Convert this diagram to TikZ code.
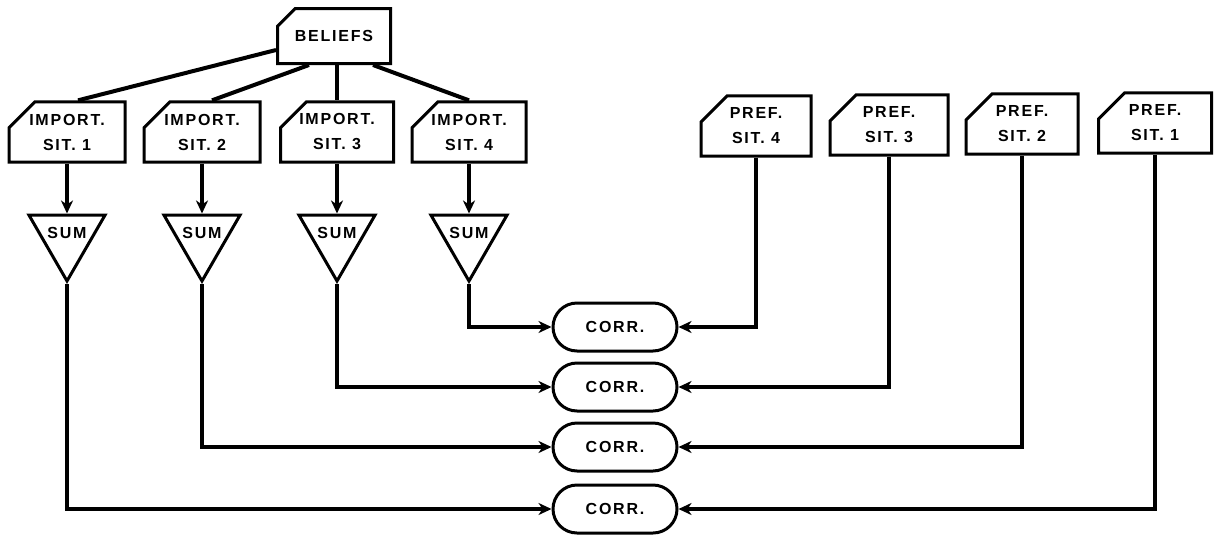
\documentclass[tikz,border=0pt]{standalone}
\usepackage{fontspec}
\newfontfamily\labfont[LetterSpace=11]{Liberation Sans}
\usetikzlibrary{shapes.misc,shapes.geometric,arrows.meta}
\begin{document}
\begin{tikzpicture}[x=1pt,y=-1pt,
  every node/.style={font=\labfont\bfseries\fontsize{16}{25}\selectfont, align=center, inner sep=0pt},
  cutbox/.style={draw, line width=3pt, chamfered rectangle, chamfered rectangle corners=north west,
     chamfered rectangle xsep=14pt, chamfered rectangle ysep=12pt, minimum width=#1, minimum height=58pt},
  sumtri/.style={draw, line width=3pt, regular polygon, regular polygon sides=3, shape border rotate=180,
     minimum size=88pt},
  corrbox/.style={draw, line width=3pt, rounded rectangle, minimum width=124pt, minimum height=48pt},
  link/.style={line width=4pt, line cap=butt, line join=miter},
  arr/.style={link, -{Stealth[length=13pt,width=12pt,inset=4pt]}}]
\useasboundingbox[fill=white] (0,0) rectangle (1214,538);

\node[cutbox=113pt, minimum height=55pt] (bel) at (334,36) {BELIEFS};

\node[cutbox=116pt] (imp1) at (67,132) {IMPORT.\\SIT. 1};
\node[cutbox=116pt] (imp2) at (202,132) {IMPORT.\\SIT. 2};
\node[cutbox=113pt] (imp3) at (337,132) {IMPORT.\\SIT. 3};
\node[cutbox=114pt] (imp4) at (469,132) {IMPORT.\\SIT. 4};

\node[cutbox=110pt] (pref4) at (756,126) {PREF.\\SIT. 4};
\node[cutbox=118pt] (pref3) at (889,125) {PREF.\\SIT. 3};
\node[cutbox=112pt] (pref2) at (1022,124) {PREF.\\SIT. 2};
\node[cutbox=113pt] (pref1) at (1155,123) {PREF.\\SIT. 1};

\node[sumtri] (sum1) at (67,237) {};
\node[sumtri] (sum2) at (202,237) {};
\node[sumtri] (sum3) at (337,237) {};
\node[sumtri] (sum4) at (469,237) {};
\node (s1) at (67,233) {SUM};
\node (s2) at (202,233) {SUM};
\node (s3) at (337,233) {SUM};
\node (s4) at (469,233) {SUM};

\node[corrbox] (corr1) at (615,327) {CORR.};
\node[corrbox] (corr2) at (615,387) {CORR.};
\node[corrbox] (corr3) at (615,447) {CORR.};
\node[corrbox] (corr4) at (615,509) {CORR.};

% beliefs to importance
\draw[link] ([yshift=-14pt]bel.west) -- ([xshift=11pt]imp1.north);
\draw[link] ([xshift=-25pt]bel.south) -- ([xshift=10pt]imp2.north);
\draw[link] (bel.south -| imp3.north) -- (imp3.north);
\draw[link] ([xshift=39pt]bel.south) -- (imp4.north);

% importance to sum
\draw[arr] (imp1.south) -- (sum1.north);
\draw[arr] (imp2.south) -- (sum2.north);
\draw[arr] (imp3.south) -- (sum3.north);
\draw[arr] (imp4.south) -- (sum4.north);

% sums to correlations
\draw[arr] (sum4.south) |- (corr1.west);
\draw[arr] (sum3.south) |- (corr2.west);
\draw[arr] (sum2.south) |- (corr3.west);
\draw[arr] (sum1.south) |- (corr4.west);

% preferences to correlations
\draw[arr] (pref4.south) |- (corr1.east);
\draw[arr] (pref3.south) |- (corr2.east);
\draw[arr] (pref2.south) |- (corr3.east);
\draw[arr] (pref1.south) |- (corr4.east);
\end{tikzpicture}
\end{document}
